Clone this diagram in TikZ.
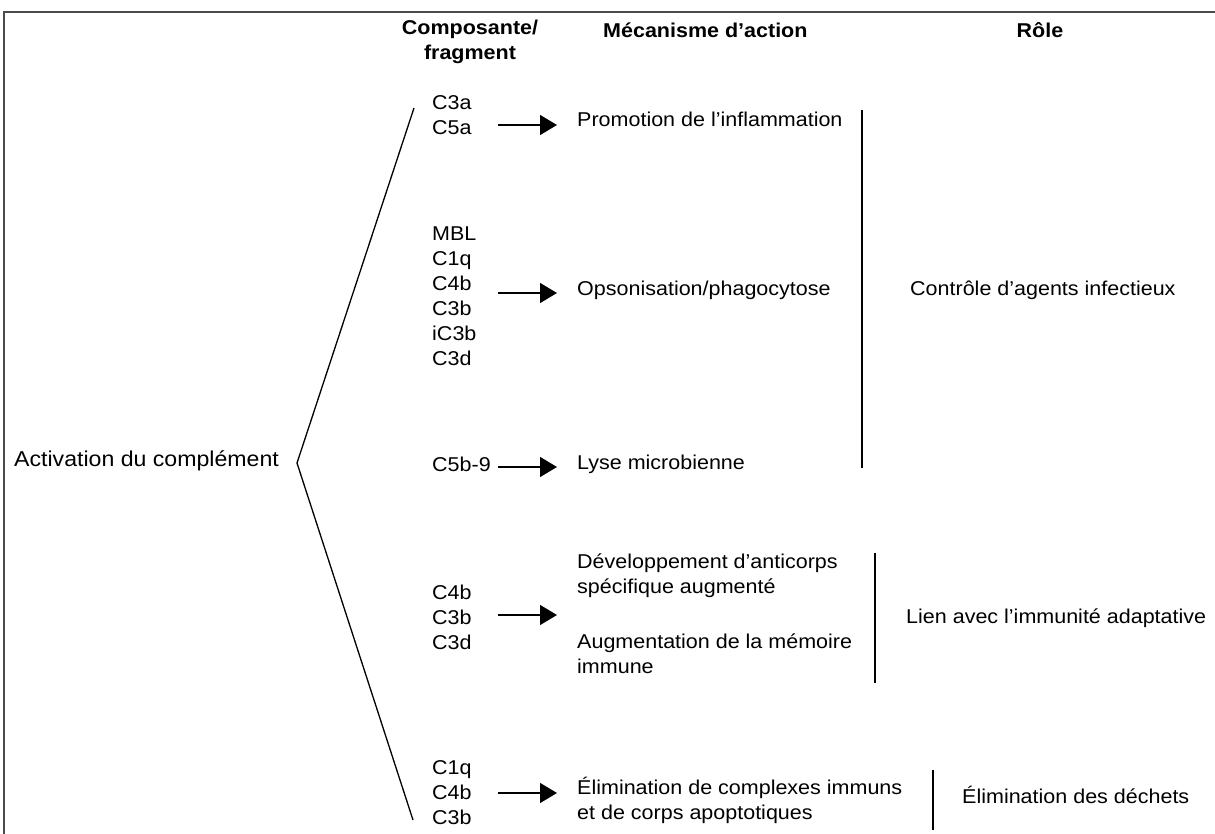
\documentclass[tikz,border=0pt]{standalone}
\usepackage{fontspec}
\setmainfont{Liberation Sans}[FakeStretch=1.075]
\usetikzlibrary{arrows.meta, positioning}

\tikzset{
  txt/.style={anchor=west, align=left, inner sep=0pt, font=\fontsize{20}{25}\selectfont},
  hdr/.style={inner sep=0pt, align=center, font=\fontsize{20}{25}\selectfont\bfseries},
  flow/.style={-{Triangle[length=17pt,width=20pt]}, line width=1.5pt, shorten >=20pt},
  bar/.style={line width=1.4pt},
}

\begin{document}
\begin{tikzpicture}[x=1pt, y=-1pt]
    \useasboundingbox (0,0) rectangle (1215,834);
    \draw[line width=1.8pt, black!70] (4,834) -- (4,12) -- (1215,12);

    % headers
    \node[hdr] (hcomp) at (470,42) {Composante/\\fragment};
    \node[hdr, anchor=west] (hmeca) at (603,30) {Mécanisme d’action};
    \node[hdr] (hrole) at (1040,30) {Rôle};

    % start
    \node[txt, font=\fontsize{21.5}{25}\selectfont] (act) at (14,461) {Activation du complément};
    \coordinate (top) at (414,108);
    \coordinate (apex) at (297,463);
    \coordinate (bot) at (413,820);
    \draw[line width=1.3pt] (top) -- (apex) -- (bot);

    % fragments
    \node[txt] (f1) at (432,115.5) {C3a\\C5a};
    \node[txt] (f2) at (432,296) {MBL\\C1q\\C4b\\C3b\\iC3b\\C3d};
    \node[txt] (f3) at (432,464) {C5b-9};
    \node[txt] (f4) at (432,617) {C4b\\C3b\\C3d};
    \node[txt] (f5) at (432,793) {C1q\\C4b\\C3b};

    % mecanismes
    \node[txt] (m1) at (577,119) {Promotion de l’inflammation};
    \node[txt] (m2) at (577,290) {Opsonisation/phagocytose};
    \node[txt] (m3) at (577,464) {Lyse microbienne};
    \node[txt] (m4a) at (577,576) {Développement d’anticorps\\spécifique augmenté};
    \node[txt] (m4b) at (577,654) {Augmentation de la mémoire\\immune};
    \node[txt] (m5) at (577,800) {Élimination de complexes immuns\\et de corps apoptotiques};

    % fleches
    \coordinate (a1) at (498,125);
    \coordinate (a2) at (498,293);
    \coordinate (a3) at (498,467);
    \coordinate (a4) at (498,615);
    \coordinate (a5) at (498,793);
    \draw[flow] (a1) -- (a1 -| m1.west);
    \draw[flow] (a2) -- (a2 -| m2.west);
    \draw[flow] (a3) -- (a3 -| m3.west);
    \draw[flow] (a4) -- (a4 -| m4a.west);
    \draw[flow] (a5) -- (a5 -| m5.west);

    % roles
    \draw[bar] (862,110) -- (862,468);
    \draw[bar] (875,553) -- (875,683);
    \draw[bar] (933,770) -- (933,830);
    \node[txt] (r1) at (910,290) {Contrôle d’agents infectieux};
    \node[txt] (r2) at (906,618) {Lien avec l’immunité adaptative};
    \node[txt] (r3) at (962,795) {Élimination des déchets};
\end{tikzpicture}
\end{document}
